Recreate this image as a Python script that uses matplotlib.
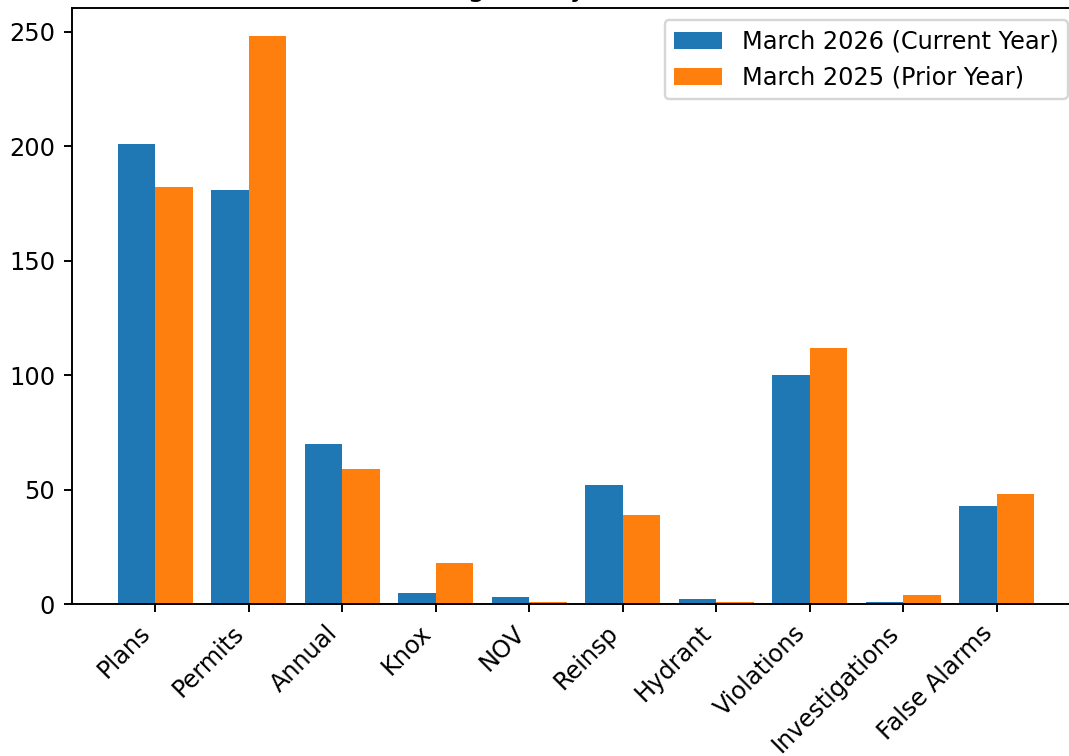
import numpy as np
import matplotlib
matplotlib.use("Agg")
import matplotlib.pyplot as plt

categories = ["Plans", "Permits", "Annual", "Knox", "NOV", "Reinsp",
              "Hydrant", "Violations", "Investigations", "False Alarms"]
current_year = [201, 181, 70, 5, 3, 52, 2, 100, 1, 43]
prior_year = [182, 248, 59, 18, 1, 39, 1, 112, 4, 48]

DPI = 173
fig = plt.figure(figsize=(1069 / DPI, 756 / DPI), dpi=DPI)
# axes run past the right/top edge, like the cropped original
ax = fig.add_axes([72 / 1069, (756 - 604) / 756, (1080 - 72) / 1069, (604 - 8) / 756])

x = np.arange(len(categories))
width = 0.4
ax.bar(x - width / 2, current_year, width, label="March 2026 (Current Year)")
ax.bar(x + width / 2, prior_year, width, label="March 2025 (Prior Year)")

ax.set_title("Building Safety: March Totals", pad=5)
ax.set_xticks(x)
ax.set_xticklabels(categories, rotation=45, ha="right")
ax.legend(loc="upper right")

fig.savefig("out.png", dpi=DPI)
